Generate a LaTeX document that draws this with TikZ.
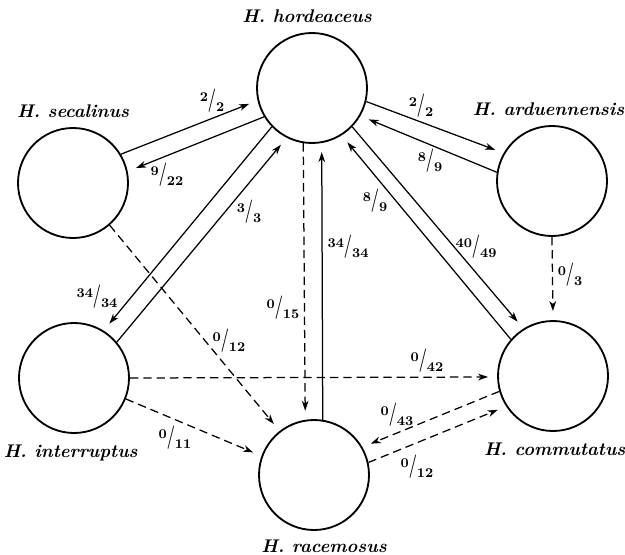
\documentclass[tikz,border=0pt]{standalone}
\usepackage{graphicx}
\usepackage{tikz}
\usetikzlibrary{arrows.meta}
\newcommand{\numfont}{\fontsize{8}{9}\selectfont\bfseries}
\newcommand{\rat}[2]{\raisebox{0.8ex}{\numfont #1}\scalebox{0.62}[1]{\fontsize{14}{15}\selectfont\bfseries /}\raisebox{-0.6ex}{\numfont #2}}

\begin{document}
\begin{tikzpicture}[x=0.6pt, y=-0.6pt,
  sp/.style={circle, draw, line width=1.1pt,
    minimum size=66pt, inner sep=0pt},
  spname/.style={font=\fontsize{11}{13}\selectfont\bfseries\itshape},
  frac/.style={inner sep=0pt},
  arr/.style={-{Stealth[length=6pt, width=4pt, inset=1.8pt]},
    line width=0.75pt, shorten >=5.4pt},
  darr/.style={arr, dash pattern=on 5pt off 3pt}
]
\useasboundingbox (0,0) rectangle (625,554);
% Species circles
\node[sp, label={[spname, label distance=2pt, xshift=-3pt]above:H. hordeaceus}]
  at (312, 88) (hord) {};
\node[sp, label={[spname, label distance=2pt]above:H. secalinus}]
  at (73,183) (seca) {};
\node[sp, label={[spname, label distance=2pt, xshift=-2pt]above:H. arduennensis}]
  at (552,181) (ardu) {};
\node[sp, label={[spname, label distance=3pt, xshift=-2pt]below:H. interruptus}]
  at (74,378) (intr) {};
\node[sp, label={[spname, label distance=3pt, xshift=1pt]below:H. commutatus}]
  at (553,376) (comm) {};
\node[sp, label={[spname, label distance=2pt, xshift=6pt]below:H. racemosus}]
  at (314,475) (race) {};
% Solid crosses (seeds set)
\draw[arr] (seca.31) -- (hord.193);
\draw[arr] (hord.211) -- (seca.12);
\draw[arr] (hord.346) -- (ardu.150);
\draw[arr] (ardu.171) -- (hord.330);
\draw[arr] (hord.224) -- (intr.58);
\draw[arr] (intr.40) -- (hord.243);
\draw[arr] (race.81) -- (hord.280);
\draw[arr] (hord.316) -- (comm.122);
\draw[arr] (comm.139) -- (hord.302);
% Dashed crosses (no seed)
\draw[darr] (hord.261) -- (race.99);
\draw[darr] (ardu.270) -- (comm.90);
\draw[darr] (seca.311) -- (race.128);
\draw[darr] (intr.0) -- (comm.181);
\draw[darr] (intr.338) -- (race.160);
\draw[darr] (comm.196) -- (race.30);
\draw[darr] (race.13) -- (comm.213);
% Ratios
\node[frac] at (212,101) (q-sh) {\rat{2}{2}};
\node[frac] at (167,175) (q-hs) {\rat{9}{22}};
\node[frac] at (421,106) (q-ha) {\rat{2}{2}};
\node[frac] at (430,161) (q-ah) {\rat{8}{9}};
\node[frac] at (97,297) (q-hi) {\rat{34}{34}};
\node[frac] at (249,212) (q-ih) {\rat{3}{3}};
\node[frac] at (283,308) (q-hr) {\rat{0}{15}};
\node[frac] at (348,247) (q-rh) {\rat{34}{34}};
\node[frac] at (476,247) (q-hc) {\rat{40}{49}};
\node[frac] at (375,201) (q-ch) {\rat{8}{9}};
\node[frac] at (570,275) (q-ac) {\rat{0}{3}};
\node[frac] at (229,341) (q-sr) {\rat{0}{12}};
\node[frac] at (427,361) (q-ic) {\rat{0}{42}};
\node[frac] at (175,438) (q-ir) {\rat{0}{11}};
\node[frac] at (397,415) (q-cr) {\rat{0}{43}};
\node[frac] at (417,467) (q-rc) {\rat{0}{12}};
\end{tikzpicture}
\end{document}
